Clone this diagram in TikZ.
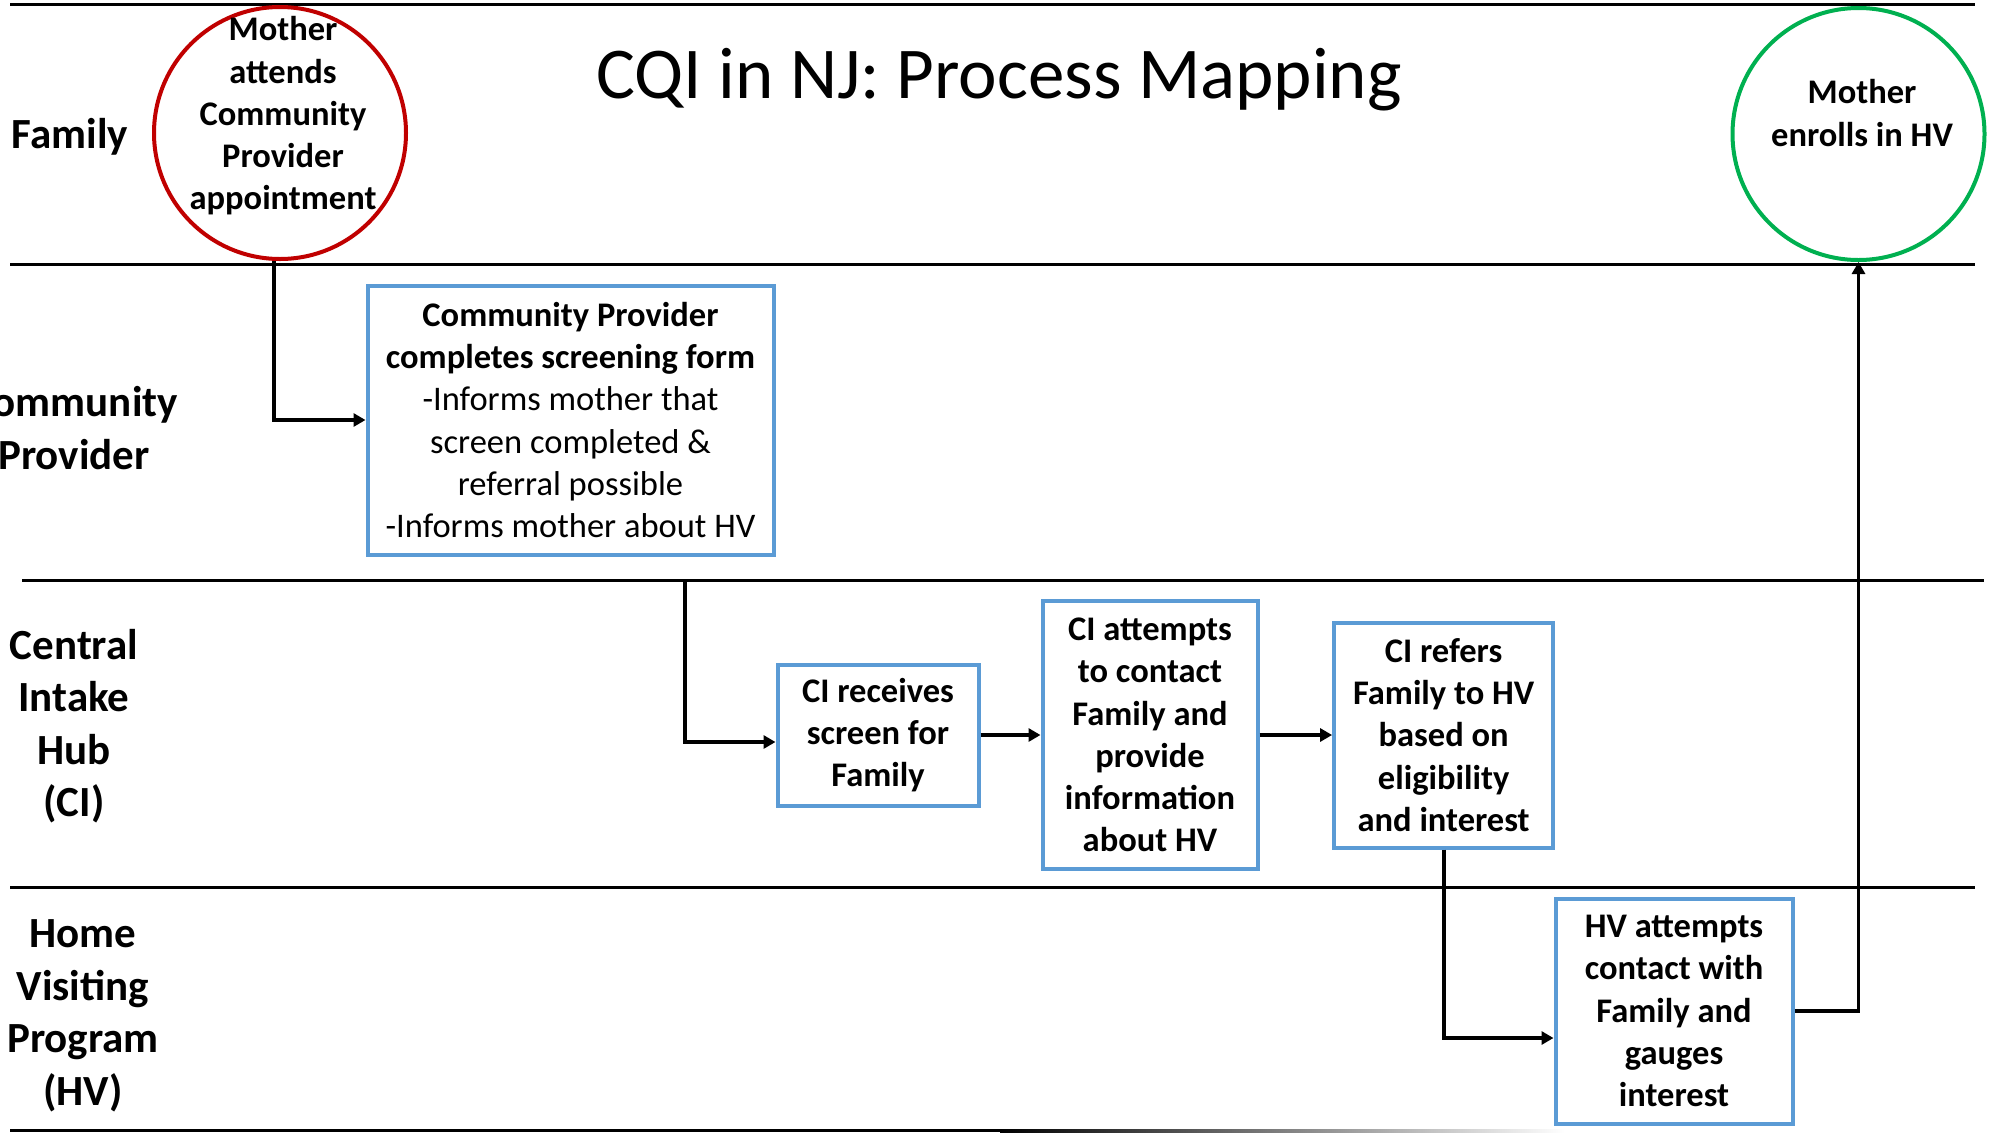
\documentclass[tikz,border=0pt]{standalone}
\usepackage{fontspec}
\setmainfont{Carlito}
\usetikzlibrary{arrows.meta,calc}
\definecolor{boxblue}{HTML}{5B9BD5}
\definecolor{startred}{HTML}{C00000}
\definecolor{endgreen}{HTML}{00B050}

\begin{document}
\begin{tikzpicture}[x=1pt,y=-1pt,
  lane/.style={line width=3pt},
  lanelabel/.style={font=\fontsize{43}{52.5}\selectfont\bfseries, align=center, inner sep=0pt},
  stepbox/.style={draw=boxblue, line width=4pt, inner sep=0pt, align=center,
    font=\fontsize{34.5}{42.3}\selectfont\bfseries},
  event/.style={circle, line width=4pt, minimum size=252pt, inner sep=0pt},
  eventtext/.style={align=center, inner sep=0pt, font=\fontsize{34.5}{42.3}\selectfont\bfseries},
  flow/.style={line width=3.8pt, -{Triangle[length=12pt,width=13pt]}},
]
\useasboundingbox (0,0) rectangle (1997,1133);
\clip (0,0) rectangle (1997,1133);

% swim-lane separators
\draw[lane] (10,4) -- (1975,4);
\draw[lane] (10,264) -- (1975,264);
\draw[lane] (22,580) -- (1984,580);
\draw[lane] (10,887) -- (1975,887);
\fill[black] (10,1129) rectangle (1000,1132);
\shade[left color=black, right color=white] (1000,1129) rectangle (1565,1132);

% title
\node[anchor=base, inner sep=0pt, font=\fontsize{73}{80}\selectfont] (title) at (999,98) {CQI in NJ: Process Mapping};

% lane labels
\node[lanelabel] (lfam) at (70,137) {Family};
\node[lanelabel] (lcp) at (74,428) {Community\\Provider};
\node[lanelabel] (lci) at (74,726) {Central\\Intake\\Hub\\(CI)};
\node[lanelabel] (lhv) at (83,1016) {Home\\Visiting\\Program\\(HV)};

% start and end events
\node[event, draw=startred] (start) at (280,133) {};
\node[eventtext] (starttext) at (283,116) {Mother\\attends\\Community\\Provider\\appointment};
\node[event, draw=endgreen] (enroll) at (1858.5,134) {};
\node[eventtext] (enrolltext) at (1862,113) {Mother\\enrolls in HV};

% process steps
\node[stepbox, minimum width=406pt, minimum height=269pt] (cp) at (570.5,420)
  {Community Provider\\completes screening form\\
   \mdseries -Informs mother that\\\mdseries screen completed \&\\
   \mdseries referral possible\\\mdseries -Informs mother about HV};
\node[stepbox, minimum width=201pt, minimum height=141pt] (rec) at (878,735)
  {CI receives\\screen for\\Family};
\node[stepbox, minimum width=215pt, minimum height=268pt] (att) at (1150,735)
  {CI attempts\\to contact\\Family and\\provide\\information\\about HV};
\node[stepbox, minimum width=219pt, minimum height=225pt] (ref) at (1443.6,735)
  {CI refers\\Family to HV\\based on\\eligibility\\and interest};
\node[stepbox, minimum width=237pt, minimum height=225pt] (hv) at (1674,1011)
  {HV attempts\\contact with\\Family and\\gauges\\interest};

% connectors
\draw[flow] ($(start.south)+(-6,0)$) |- (cp.west);
\coordinate (cpout) at (685,580);
\draw[flow] (cpout) |- ($(rec.west)+(0,7)$);
\draw[flow] (rec.east) -- (att.west);
\draw[flow] (att.east) -- (ref.west);
\draw[flow] (ref.south) |- ($(hv.west)+(0,27)$);
\draw[flow] (hv.east) -| (enroll.south);
\end{tikzpicture}
\end{document}
